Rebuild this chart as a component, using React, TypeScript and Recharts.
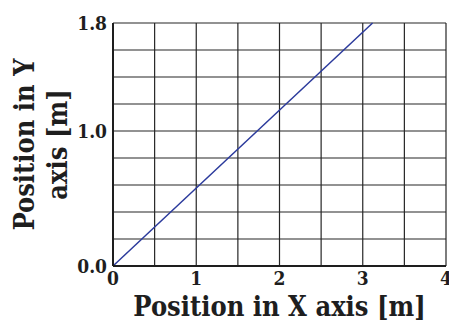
import React from 'react';
import { LineChart, Line, XAxis, YAxis, CartesianGrid } from 'recharts';

// Data (straight line y = x * tan(30deg))
const xValues = [0, 3.118];
const yValues = [0, 1.8];

// Grid ticks and labelled ticks
const xTicks = [0, 0.5, 1, 1.5, 2, 2.5, 3, 3.5, 4];
const yTicks = [0, 0.2, 0.4, 0.6, 0.8, 1.0, 1.2, 1.4, 1.6, 1.8];
const xLabeled = [0, 1, 2, 3, 4];
const yLabeled = [0, 1.0, 1.8];

const xTitle = 'Position in X axis [m]';
const yTitleLines = ['Position in Y', 'axis [m]'];

const data = xValues.map((x, i) => ({ x, y: yValues[i] }));

const FONT = "'DejaVu Serif Condensed', 'DejaVu Serif', serif";
const INK = '#1e1e1e';

const isIn = (arr: number[], v: number) => arr.some((a) => Math.abs(a - v) < 1e-9);

const XTitle = (props: any) => {
  const vb = props.viewBox || {};
  const cx = vb.x + vb.width / 2;
  return (
    <text x={cx} y={316} textAnchor="middle" fontFamily={FONT} fontWeight="bold" fontSize={27} fill={INK}>
      {xTitle}
    </text>
  );
};

const YTitle = (props: any) => {
  const vb = props.viewBox || {};
  const cy = vb.y + vb.height / 2;
  const xs = [34, 67];
  return (
    <g>
      {yTitleLines.map((t, i) => (
        <text
          key={i}
          x={xs[i]}
          y={cy}
          transform={`rotate(-90 ${xs[i]} ${cy})`}
          textAnchor="middle"
          fontFamily={FONT}
          fontWeight="bold"
          fontSize={27}
          fill={INK}
        >
          {t}
        </text>
      ))}
    </g>
  );
};

export default function App() {
  return (
    <div style={{ position: 'absolute', left: 0, top: 0, width: 449, height: 320, background: '#fff' }}>
      <LineChart width={449} height={320} data={data} margin={{ top: 23, right: 3, left: 0, bottom: 0 }}>
        <CartesianGrid stroke="#262626" strokeWidth={1.2} />
        <XAxis
          dataKey="x"
          type="number"
          domain={[0, 4]}
          ticks={xTicks}
          interval={0}
          tickFormatter={(v: number) => (isIn(xLabeled, v) ? String(v) : '')}
          tickSize={0}
          tickMargin={6}
          height={54}
          axisLine={{ stroke: INK, strokeWidth: 2 }}
          tick={{ fontFamily: FONT, fontWeight: 'bold', fontSize: 19, fill: INK }}
          label={<XTitle />}
        />
        <XAxis
          xAxisId="top"
          orientation="top"
          type="number"
          domain={[0, 4]}
          height={0}
          tick={false}
          tickLine={false}
          axisLine={{ stroke: INK, strokeWidth: 2 }}
        />
        <YAxis
          type="number"
          domain={[0, 1.8]}
          ticks={yTicks}
          interval={0}
          tickFormatter={(v: number) => (isIn(yLabeled, v) ? v.toFixed(1) : '')}
          tickSize={0}
          tickMargin={6}
          width={113}
          axisLine={{ stroke: INK, strokeWidth: 2 }}
          tick={{ fontFamily: FONT, fontWeight: 'bold', fontSize: 19, fill: INK }}
          label={<YTitle />}
        />
        <YAxis
          yAxisId="right"
          orientation="right"
          type="number"
          domain={[0, 1.8]}
          width={0}
          tick={false}
          tickLine={false}
          axisLine={{ stroke: INK, strokeWidth: 2 }}
        />
        <Line
          type="linear"
          dataKey="y"
          stroke="#2b3a9c"
          strokeWidth={1.5}
          dot={false}
          isAnimationActive={false}
        />
      </LineChart>
    </div>
  );
}
